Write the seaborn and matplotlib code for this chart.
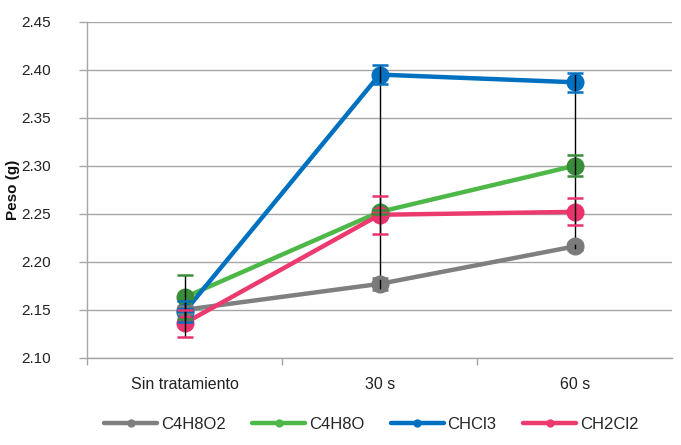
import matplotlib.pyplot as plt
import numpy as np
import pandas as pd
import seaborn as sns
from matplotlib.lines import Line2D

# data
categories = ['Sin tratamiento', '30 s', '60 s']
series = ['C4H8O2', 'C4H8O', 'CHCl3', 'CH2Cl2']

c4h8o2 = [2.150, 2.177, 2.216]
c4h8o = [2.163, 2.252, 2.300]
chcl3 = [2.148, 2.395, 2.387]
ch2cl2 = [2.136, 2.249, 2.252]

err_c4h8o2 = [0.004, 0.006, 0.004]
err_c4h8o = [0.023, 0.002, 0.011]
err_chcl3 = [0.011, 0.010, 0.010]
err_ch2cl2 = [0.014, 0.020, 0.014]

line_colors = ['#7f7f7f', '#4db848', '#0070c0', '#ec3a6f']
marker_colors = ['#7a7a7a', '#3a8c3a', '#0070c0', '#e8336d']

values = [c4h8o2, c4h8o, chcl3, ch2cl2]
errors = [err_c4h8o2, err_c4h8o, err_chcl3, err_ch2cl2]

df = pd.DataFrame({
    'tratamiento': categories * len(series),
    'peso': np.concatenate(values),
    'solvente': np.repeat(series, len(categories)),
})


def main():
    sns.set_theme(style='white')
    plt.rcParams['font.family'] = ['Liberation Sans Narrow', 'Liberation Sans', 'DejaVu Sans']

    fig, ax = plt.subplots(figsize=(6.81, 4.45), dpi=100)
    fig.subplots_adjust(left=0.128, right=0.987, top=0.951, bottom=0.196)

    ax.set_axisbelow(True)
    ax.yaxis.grid(True, color='#a6a6a6', linewidth=1.0)

    sns.lineplot(data=df, x='tratamiento', y='peso', hue='solvente', hue_order=series,
                 palette=line_colors, linewidth=3.2, sort=False, legend=False, ax=ax)

    x = np.arange(len(categories))
    # high-low lines
    stacked = np.array(values)
    ax.vlines(x, stacked.min(axis=0), stacked.max(axis=0), color='black', linewidth=1.0, zorder=3)

    for vals, errs, lc, mc in zip(values, errors, line_colors, marker_colors):
        eb = ax.errorbar(x, vals, yerr=errs, fmt='none', ecolor='black', elinewidth=1.0,
                         capsize=6, capthick=1.8, zorder=4)
        for cap in eb[1]:
            cap.set_markeredgecolor(mc)
            cap.set_color(mc)
        ax.plot(x, vals, 'o', color=mc, markersize=12, zorder=3.5, linestyle='none')

    ax.set_xlim(-0.5, 2.5)
    ax.set_ylim(2.10, 2.45)
    ax.set_yticks(np.arange(2.10, 2.451, 0.05))
    ax.set_yticklabels([f'{t:.2f}' for t in np.arange(2.10, 2.451, 0.05)])
    ax.set_xticks(x)
    ax.set_xticklabels(categories)
    ax.set_xticks([-0.5, 0.5, 1.5], minor=True)
    ax.tick_params(axis='x', which='major', length=0, labelsize=11.5, pad=14, colors='#222222')
    ax.tick_params(axis='x', which='minor', length=5, width=1, color='#a6a6a6', bottom=True)
    ax.tick_params(axis='y', length=6, width=1, color='#a6a6a6', labelsize=11, pad=20,
                   left=True, colors='#222222')
    for lab in ax.get_yticklabels():
        lab.set_color('#222222')
    ax.tick_params(axis='y', which='major', color='#a6a6a6')

    for side in ['top', 'right']:
        ax.spines[side].set_visible(False)
    for side in ['left', 'bottom']:
        ax.spines[side].set_color('#a6a6a6')
        ax.spines[side].set_linewidth(1.0)

    ax.set_xlabel('')
    ax.set_ylabel('Peso (g)', fontsize=11, fontweight='bold', color='#111111')
    ax.yaxis.set_label_coords(-0.114, 0.5)

    handles = [Line2D([0], [0], color=c, linewidth=3.2, marker='o', markersize=5,
                      markerfacecolor=c, markeredgecolor=c) for c in line_colors]
    fig.legend(handles, series, loc='lower center', ncol=4, frameon=False,
               bbox_to_anchor=(0.545, -0.005), fontsize=12, handlelength=3.2,
               columnspacing=1.6, handletextpad=0.2)

    fig.savefig('out.png', dpi=100)
    plt.close(fig)


if __name__ == '__main__':
    main()
